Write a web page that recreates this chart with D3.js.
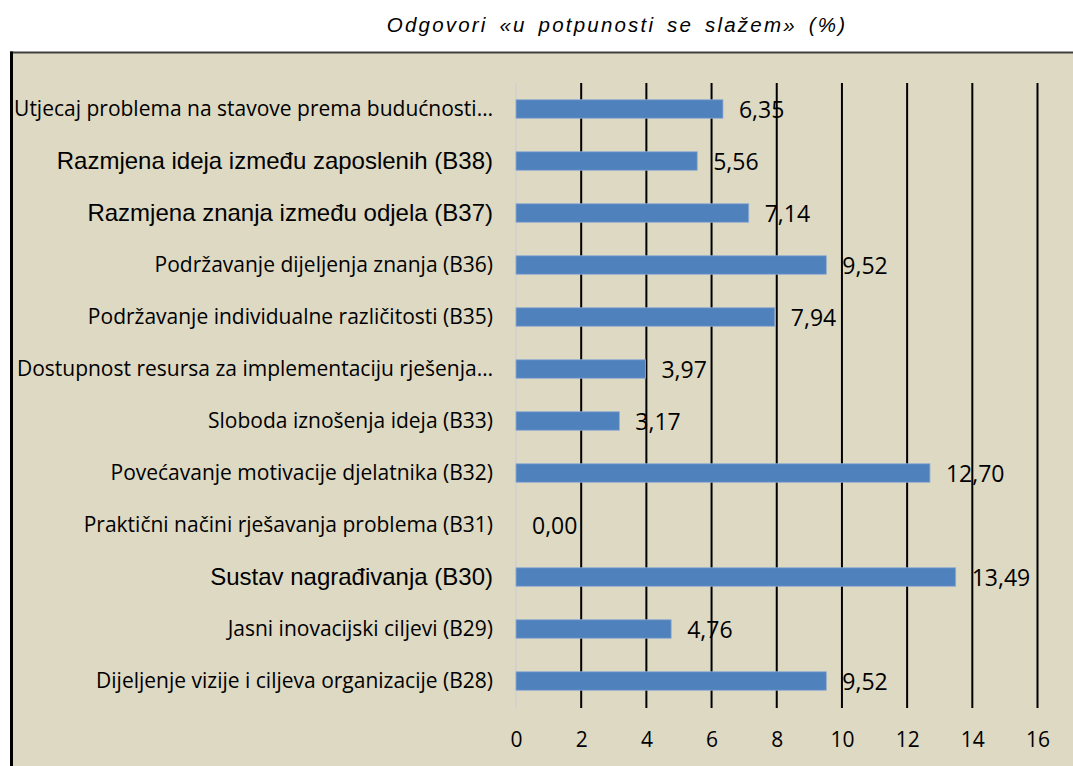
<!DOCTYPE html>
<html>
<head>
<meta charset="utf-8">
<script src="https://cdn.jsdelivr.net/npm/d3@7"></script>
<style>
  html, body { margin: 0; padding: 0; background: #ffffff; }
  svg { display: block; }
</style>
</head>
<body>
<svg id="chart" width="1073" height="766"></svg>
<script>
// Survey items (top to bottom) and share of "fully agree" answers, in %
const categories = [
  "Utjecaj problema na stavove prema budućnosti…",
  "Razmjena ideja između zaposlenih (B38)",
  "Razmjena znanja između odjela (B37)",
  "Podržavanje dijeljenja znanja (B36)",
  "Podržavanje individualne različitosti (B35)",
  "Dostupnost resursa za implementaciju rješenja…",
  "Sloboda iznošenja ideja (B33)",
  "Povećavanje motivacije djelatnika (B32)",
  "Praktični načini rješavanja problema (B31)",
  "Sustav nagrađivanja (B30)",
  "Jasni inovacijski ciljevi (B29)",
  "Dijeljenje vizije i ciljeva organizacije (B28)"
];
const values = [6.35, 5.56, 7.14, 9.52, 7.94, 3.97, 3.17, 12.70, 0.00, 13.49, 4.76, 9.52];
const xTicks = [0, 2, 4, 6, 8, 10, 12, 14, 16];
const title = "Odgovori «u potpunosti se slažem» (%)";

// Items whose labels were typed in a different (Arial-style) face
const arialItems = new Set([
  "Razmjena ideja između zaposlenih (B38)",
  "Razmjena znanja između odjela (B37)",
  "Sustav nagrađivanja (B30)"
]);

const svg = d3.select("#chart");
const W = 1073, H = 766;
const plot = { left: 516, right: 1037.5, top: 83, bottom: 707 };

const bodyFont = "'Open Sans', 'Noto Sans', sans-serif";
const arialFont = "'Liberation Sans', Arial, sans-serif";

// Chart area background and frame
svg.append("rect")
  .attr("x", 10).attr("y", 52)
  .attr("width", W - 10).attr("height", H - 52)
  .attr("fill", "#DDD9C3");
svg.append("line")
  .attr("x1", 10).attr("x2", W).attr("y1", 52.5).attr("y2", 52.5)
  .attr("stroke", "#404040").attr("stroke-width", 2);
svg.append("line")
  .attr("x1", 11.5).attr("x2", 11.5).attr("y1", 51.5).attr("y2", H)
  .attr("stroke", "#000").attr("stroke-width", 3);

// Title
svg.append("text")
  .attr("x", 617).attr("y", 32)
  .attr("text-anchor", "middle")
  .attr("font-family", arialFont)
  .attr("font-style", "italic")
  .attr("font-size", 20.5)
  .attr("letter-spacing", 2.2)
  .attr("word-spacing", 4)
  .attr("fill", "#000")
  .text(title);

const x = d3.scaleLinear().domain([0, 16]).range([plot.left, plot.right]);
const y = d3.scaleBand()
  .domain(categories)
  .range([plot.top, plot.bottom])
  .paddingInner(0.645)
  .paddingOuter(0.3225);

// Vertical gridlines
svg.append("g")
  .selectAll("line")
  .data(xTicks.filter(t => t > 0))
  .join("line")
  .attr("x1", d => x(d)).attr("x2", d => x(d))
  .attr("y1", plot.top).attr("y2", plot.bottom + 1)
  .attr("stroke", "#000").attr("stroke-width", 2);

// Category axis line
svg.append("line")
  .attr("x1", x(0)).attr("x2", x(0))
  .attr("y1", plot.top).attr("y2", plot.bottom + 1)
  .attr("stroke", "#CFCFCF").attr("stroke-width", 1.5);

// Bars
svg.append("g")
  .selectAll("rect")
  .data(values)
  .join("rect")
  .attr("x", x(0))
  .attr("y", (d, i) => y(categories[i]))
  .attr("width", d => x(d) - x(0))
  .attr("height", y.bandwidth())
  .attr("fill", "#4F81BD")
  .attr("stroke", d => d > 0 ? "#8FAAD3" : "none")
  .attr("stroke-width", 0.8);

// Value labels
const fmt = v => d3.format(".2f")(v).replace(".", ",");
svg.append("g")
  .selectAll("text")
  .data(values)
  .join("text")
  .attr("x", d => x(d) + 16)
  .attr("y", (d, i) => y(categories[i]) + y.bandwidth() / 2 + 9)
  .attr("font-family", bodyFont)
  .attr("font-size", 23)
  .attr("fill", "#000")
  .text(fmt);

// Category labels
const yAxis = d3.axisLeft(y).tickSize(0).tickPadding(23);
const gy = svg.append("g").attr("transform", `translate(${x(0)},0)`).call(yAxis);
gy.select(".domain").remove();
gy.selectAll("text")
  .attr("fill", "#000")
  .attr("dy", "0.35em")
  .attr("font-family", d => arialItems.has(d) ? arialFont : bodyFont)
  .attr("font-size", d => arialItems.has(d) ? 24 : 21);

// Value axis labels
const xAxis = d3.axisBottom(x).tickValues(xTicks).tickSize(0).tickPadding(0).tickFormat(d3.format("d"));
const gx = svg.append("g").attr("transform", `translate(0,${plot.bottom + 25})`).call(xAxis);
gx.select(".domain").remove();
gx.selectAll("text")
  .attr("fill", "#000")
  .attr("dy", "0.71em")
  .attr("font-family", bodyFont)
  .attr("font-size", 21);
</script>
</body>
</html>
